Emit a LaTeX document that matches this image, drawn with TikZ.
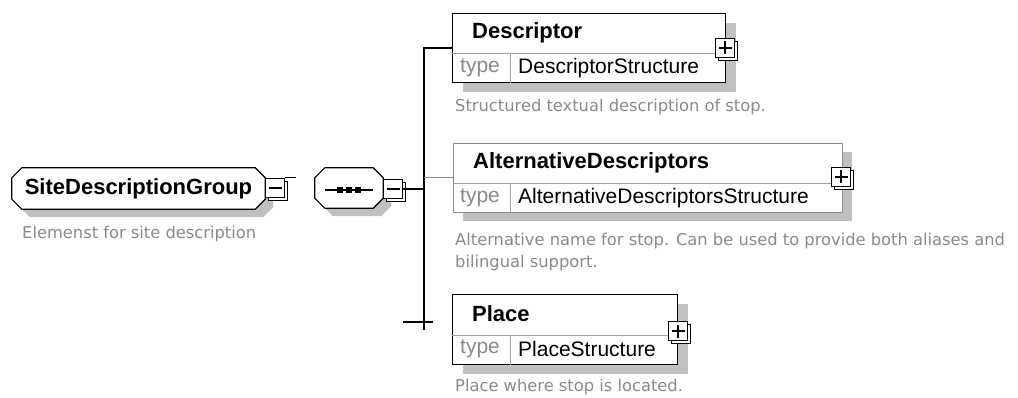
\documentclass[tikz,border=0pt]{standalone}
\usepackage{fontspec}
\setmainfont{Liberation Sans}
\newfontfamily\notefont{DejaVu Sans}
\usetikzlibrary{shadows}

\definecolor{shadowgray}{HTML}{C0C0C0}
\definecolor{notegray}{HTML}{8A8A8A}
\definecolor{rulegray}{HTML}{A0A0A0}

% octagon round a node, corners cut by 10pt
\newcommand{\octpath}[1]{([xshift=10pt]#1.north west) -- ([xshift=-10pt]#1.north east)
    -- ([yshift=-10pt]#1.north east) -- ([yshift=10pt]#1.south east)
    -- ([xshift=-10pt]#1.south east) -- ([xshift=10pt]#1.south west)
    -- ([yshift=10pt]#1.south west) -- ([yshift=-10pt]#1.north west) -- cycle}

\tikzset{
    elem/.style={draw, line width=1.2pt, fill=white, rectangle, anchor=north west, inner sep=0pt,
        drop shadow={shadow xshift=10pt, shadow yshift=-9pt, fill=shadowgray, opacity=1}},
    optelem/.style={elem, draw=notegray, line width=0.8pt},
    grp/.style={rectangle, inner sep=0pt, font=\bfseries\fontsize{22}{24}\selectfont},
    grpline/.style={draw, line width=1.2pt, fill=white},
    title/.style={anchor=west, inner sep=0pt, font=\bfseries\fontsize{22}{24}\selectfont},
    typelbl/.style={anchor=west, inner sep=0pt, text=notegray, font=\fontsize{21}{23}\selectfont},
    typename/.style={anchor=west, inner sep=0pt, font=\fontsize{21}{23}\selectfont},
    note/.style={anchor=west, inner sep=0pt, align=left, text=notegray, font=\notefont\fontsize{16.3}{22}\selectfont},
    expbox/.style={draw, line width=1.5pt, fill=white, minimum size=19pt, inner sep=0pt,
        copy shadow={shadow xshift=3pt, shadow yshift=-3pt, draw=black, line width=1.5pt}},
    plusbox/.style={expbox, path picture={
        \draw[line width=1.5pt] ([xshift=3pt]path picture bounding box.west) -- ([xshift=-3pt]path picture bounding box.east)
            ([yshift=-3pt]path picture bounding box.north) -- ([yshift=3pt]path picture bounding box.south);}},
    minusbox/.style={expbox, path picture={
        \draw[line width=1.5pt] ([xshift=3pt]path picture bounding box.west) -- ([xshift=-3pt]path picture bounding box.east);}},
    conn/.style={line width=1.5pt},
    optconn/.style={line width=0.8pt, draw=notegray},
    divider/.style={line width=0.8pt, draw=rulegray}
}

\begin{document}
\begin{tikzpicture}[x=1pt, y=-1pt]
    \useasboundingbox (0,0) rectangle (1018,398);

    % group and sequence
    \node[grp, minimum width=253pt, minimum height=41pt] (group) at (138.5,188.5) {};
    \node[grp, minimum width=68pt, minimum height=40pt] (seq) at (349,188) {};
    \begin{scope}[transform canvas={shift={(8pt,-8pt)}}]
        \fill[shadowgray] \octpath{group};
        \fill[shadowgray] \octpath{seq};
    \end{scope}
    \draw[grpline] \octpath{group};
    \draw[grpline] \octpath{seq};
    \node[grp] (grouptitle) at (group.center) {SiteDescriptionGroup};
    \node[minusbox] (groupminus) at (275,188) {};
    \node[note] (groupnote) at (22,234) {Elemenst for site description};

    \draw[line width=1.5pt] ([xshift=-24pt,yshift=-2pt]seq.center) -- ([xshift=24pt,yshift=-2pt]seq.center);
    \foreach \dx in {-9,0,9}
        \fill ([xshift=\dx pt, yshift=-2pt]seq.center) ++(-3,-3) rectangle ++(6,6);
    \node[minusbox] (seqminus) at (393,189) {};

    % elements
    \node[elem, minimum width=273pt, minimum height=69pt] (desc) at (452,13) {};
    \node[title] (desctitle) at (472,33) {Descriptor};
    \draw[divider] ([yshift=-40pt]desc.north west) -- ([yshift=-40pt]desc.north east);
    \draw[divider] ([xshift=58pt,yshift=-40pt]desc.north west) -- ([xshift=58pt]desc.south west);
    \node[typelbl] (desctype) at (460,68) {type};
    \node[typename] (descname) at (518,68) {DescriptorStructure};
    \node[plusbox] (descplus) at (725,48) {};
    \node[note] (descnote) at (455,107) {Structured textual description of stop.};

    \node[optelem, minimum width=389pt, minimum height=69pt] (alt) at (453,143) {};
    \node[title] (alttitle) at (473,163) {AlternativeDescriptors};
    \draw[divider] ([yshift=-40pt]alt.north west) -- ([yshift=-40pt]alt.north east);
    \draw[divider] ([xshift=57pt,yshift=-40pt]alt.north west) -- ([xshift=57pt]alt.south west);
    \node[typelbl] (alttype) at (460,198) {type};
    \node[typename] (altname) at (518,198) {AlternativeDescriptorsStructure};
    \node[plusbox] (altplus) at (841,177) {};
    \node[note] (altnote) at (455,252) {Alternative name for stop. Can be used to provide both aliases and\\bilingual support.};

    \node[elem, minimum width=225pt, minimum height=70pt] (place) at (452,294) {};
    \node[title] (placetitle) at (472,314) {Place};
    \draw[divider] ([yshift=-41pt]place.north west) -- ([yshift=-41pt]place.north east);
    \draw[divider] ([xshift=58pt,yshift=-41pt]place.north west) -- ([xshift=58pt]place.south west);
    \node[typelbl] (placetype) at (460,349) {type};
    \node[typename] (placename) at (518,349) {PlaceStructure};
    \node[plusbox] (placeplus) at (678,331) {};
    \node[note] (placenote) at (455,387) {Place where stop is located.};

    % connectors
    \coordinate (trunkbot) at (424,330);
    \coordinate (placestub) at (403,322);
    \draw[conn] (groupminus.north east) -- ++(11,0);
    \draw[conn] (seqminus.east) -- (seqminus.east -| trunkbot);
    \draw[conn] (desc.west) -| (trunkbot);
    \draw[optconn] (alt.west) -- (alt.west -| trunkbot);
    \draw[conn] (placestub) -- ++(30,0);
\end{tikzpicture}
\end{document}
